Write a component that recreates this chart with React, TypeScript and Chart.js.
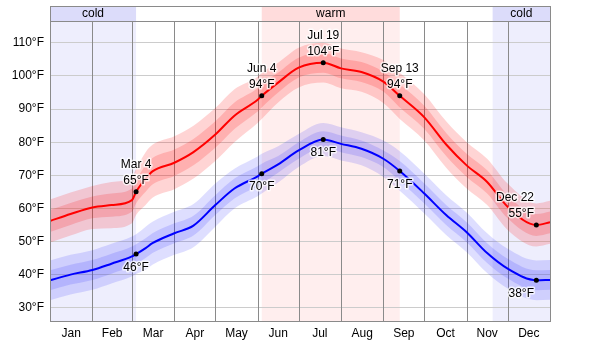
import React, { useEffect, useRef } from 'react';
import { Chart, registerables } from 'chart.js';
Chart.register(...registerables);

// Day of year (leap-year calendar, 0 = Jan 1)
const days = [0, 15, 31, 45, 60, 63, 70, 75, 91, 105, 121, 135, 152, 155, 167, 182, 200, 213, 228, 244, 256, 274, 290, 305, 320, 335, 356, 366];

// Average daily high and low (°F)
const high = [56.2, 58.3, 60.3, 61.0, 62.5, 65, 69, 71.2, 73.8, 77, 82.3, 88, 92.8, 94, 98, 102.5, 104, 102.3, 101.2, 98.3, 94, 87.5, 79.3, 73, 68, 60.5, 55, 55.8];
const low = [38.3, 40, 41.4, 43.3, 45.5, 46.2, 48, 49.5, 52.5, 54.8, 61, 66, 69.7, 70.5, 73.3, 77.5, 80.8, 79.5, 78, 75, 71.3, 64.5, 58, 52.8, 46.5, 41.8, 38.3, 38.4];

// Percentile bands for the high
const hiP90 = [62.7, 64.8, 66.8, 68.0, 69.5, 72.0, 77.0, 79.2, 81.8, 85.0, 90.3, 96.0, 99.8, 101.0, 104.0, 108.5, 110.0, 108.3, 107.2, 104.8, 101.0, 94.5, 86.3, 80.0, 75.0, 67.5, 61.5, 62.3];
const hiP75 = [59.5, 61.6, 63.6, 64.5, 66.0, 68.5, 73.0, 75.2, 77.8, 81.0, 86.3, 92.0, 96.3, 97.5, 101.0, 105.5, 107.0, 105.3, 104.2, 101.3, 97.5, 91.0, 82.8, 76.5, 71.5, 64.0, 58.3, 59.1];
const hiP25 = [52.9, 55.0, 57.0, 57.5, 59.0, 61.5, 65.0, 67.2, 69.8, 73.0, 78.3, 84.0, 89.3, 90.5, 95.0, 99.5, 101.0, 99.3, 98.2, 95.3, 90.5, 84.0, 75.8, 69.5, 64.5, 57.0, 51.7, 52.5];
const hiP10 = [49.7, 51.8, 53.8, 54.0, 55.5, 58.0, 61.0, 63.2, 65.8, 69.0, 74.3, 80.0, 85.8, 87.0, 92.0, 96.5, 98.0, 96.3, 95.2, 91.8, 87.0, 80.5, 72.3, 66.0, 61.0, 53.5, 48.5, 49.3];

// Percentile bands for the low
const loP90 = [44.3, 46.0, 47.4, 49.3, 51.5, 52.2, 54.5, 56.0, 59.0, 61.3, 67.5, 72.0, 75.7, 76.5, 78.8, 82.5, 85.8, 84.5, 83.0, 80.5, 77.3, 70.5, 64.0, 58.8, 52.5, 47.8, 44.3, 44.4];
const loP75 = [41.3, 43.0, 44.4, 46.3, 48.5, 49.2, 51.0, 52.5, 55.5, 57.8, 64.0, 69.0, 72.7, 73.5, 75.8, 80.0, 83.3, 82.0, 80.5, 77.5, 74.3, 67.5, 61.0, 55.8, 49.5, 44.8, 41.3, 41.4];
const loP25 = [35.3, 37.0, 38.4, 40.3, 42.5, 43.2, 45.0, 46.5, 49.5, 51.8, 58.0, 63.0, 66.7, 67.5, 70.8, 75.0, 78.3, 77.0, 75.5, 72.5, 68.3, 61.5, 55.0, 49.8, 43.5, 38.8, 35.3, 35.4];
const loP10 = [32.3, 34.0, 35.4, 37.3, 39.5, 40.2, 41.5, 43.0, 46.0, 48.3, 54.5, 60.0, 63.7, 64.5, 67.8, 72.5, 75.8, 74.5, 73.0, 69.5, 65.3, 58.5, 52.0, 46.8, 40.5, 35.8, 32.3, 32.4];

// Month axis
const monthStarts = [0, 31, 60, 91, 121, 152, 182, 213, 244, 274, 305, 335, 366];
const monthLabels = ['Jan', 'Feb', 'Mar', 'Apr', 'May', 'Jun', 'Jul', 'Aug', 'Sep', 'Oct', 'Nov', 'Dec'];
const yTicks = [30, 40, 50, 60, 70, 80, 90, 100, 110];

// Seasons
const seasonNames = ['cold', 'warm', 'cold'];
const seasonStart = [0, 155, 324];
const seasonEnd = [63, 256, 366];
const seasonKind = ['cold', 'warm', 'cold'];

// Annotations
const annDays = [63, 155, 200, 256, 356];
const annDates = ['Mar 4', 'Jun 4', 'Jul 19', 'Sep 13', 'Dec 22'];
const annHigh = [65, 94, 104, 94, 55];
const annLow = [46.2, 70.5, 80.8, 71.3, 38.3];
const annHighLabel = ['65°F', '94°F', '104°F', '94°F', '55°F'];
const annLowLabel = ['46°F', '70°F', '81°F', '71°F', '38°F'];

const FONT = "'Liberation Sans', Arial, sans-serif";

const decor = {
  id: 'decor',
  beforeDraw(chart: any) {
    const { ctx, chartArea, scales } = chart;
    const { left, right, top, bottom } = chartArea;
    const x = scales.x;
    ctx.save();
    ctx.fillStyle = '#ffffff';
    ctx.fillRect(left, top - 15, right - left, bottom - top + 15);
    for (let i = 0; i < seasonNames.length; i++) {
      const x0 = x.getPixelForValue(seasonStart[i]);
      const x1 = x.getPixelForValue(seasonEnd[i]);
      const cold = seasonKind[i] === 'cold';
      ctx.fillStyle = cold ? '#eeeefd' : '#ffeeee';
      ctx.fillRect(x0, top, x1 - x0, bottom - top);
      ctx.fillStyle = cold ? '#dcdcfa' : '#ffdcdc';
      ctx.fillRect(x0, top - 15, x1 - x0, 15);
    }
    ctx.restore();
  },
  beforeDatasetsDraw(chart: any) {
    const { ctx, chartArea, scales } = chart;
    const { top, bottom } = chartArea;
    const x = scales.x;
    ctx.save();
    ctx.strokeStyle = '#8a8a8a';
    ctx.lineWidth = 1;
    for (let i = 1; i < monthStarts.length - 1; i++) {
      const px = Math.round(x.getPixelForValue(monthStarts[i])) + 0.5;
      ctx.beginPath();
      ctx.moveTo(px, top);
      ctx.lineTo(px, bottom);
      ctx.stroke();
    }
    ctx.restore();
  },
  afterDraw(chart: any) {
    const { ctx, chartArea, scales } = chart;
    const { left, right, top, bottom } = chartArea;
    const x = scales.x;
    const y = scales.y;
    ctx.save();
    // frame
    ctx.strokeStyle = '#8a8a8a';
    ctx.lineWidth = 1;
    ctx.strokeRect(Math.round(left) + 0.5, Math.round(top - 15) + 0.5, Math.round(right - left), Math.round(bottom - top + 15));
    ctx.beginPath();
    ctx.moveTo(left, Math.round(top) + 0.5);
    ctx.lineTo(right, Math.round(top) + 0.5);
    ctx.stroke();

    ctx.font = `12px ${FONT}`;
    ctx.fillStyle = '#000';
    ctx.textAlign = 'center';
    ctx.textBaseline = 'middle';
    for (let i = 0; i < seasonNames.length; i++) {
      const x0 = x.getPixelForValue(seasonStart[i]);
      const x1 = x.getPixelForValue(seasonEnd[i]);
      ctx.fillText(seasonNames[i], (x0 + x1) / 2, top - 7.5);
    }
    for (let i = 0; i < monthLabels.length; i++) {
      const cx = x.getPixelForValue((monthStarts[i] + monthStarts[i + 1]) / 2);
      ctx.fillText(monthLabels[i], cx, bottom + 12.5);
    }

    const label = (txt: string, px: number, py: number) => {
      const w = ctx.measureText(txt).width;
      let tx = Math.min(px, right - 16 - w / 2);
      tx = Math.max(tx, left + 4 + w / 2);
      ctx.lineWidth = 3;
      ctx.lineJoin = 'round';
      ctx.strokeStyle = 'rgba(255,255,255,0.75)';
      ctx.strokeText(txt, tx, py);
      ctx.fillStyle = '#000';
      ctx.fillText(txt, tx, py);
    };

    for (let i = 0; i < annDays.length; i++) {
      const px = x.getPixelForValue(annDays[i]);
      const hy = y.getPixelForValue(annHigh[i]);
      const ly = y.getPixelForValue(annLow[i]);
      label(annDates[i], px, hy - 27.5);
      label(annHighLabel[i], px, hy - 11.5);
      label(annLowLabel[i], px, ly + 13.5);
      ctx.fillStyle = '#000';
      ctx.beginPath();
      ctx.arc(px, hy, 2.5, 0, Math.PI * 2);
      ctx.fill();
      ctx.beginPath();
      ctx.arc(px, ly, 2.5, 0, Math.PI * 2);
      ctx.fill();
    }
    ctx.restore();
  },
};

export default function App() {
  const ref = useRef<HTMLCanvasElement>(null);
  useEffect(() => {
    if (!ref.current) return;
    const pts = (arr: number[]) => days.map((d, i) => ({ x: d, y: arr[i] }));
    const RED = 'rgba(255,0,0,0.17)';
    const BLUE = 'rgba(0,0,255,0.13)';
    const band = (data: number[], color: string) => ({
      data: pts(data),
      borderColor: 'rgba(0,0,0,0)',
      borderWidth: 1,
      pointRadius: 0,
      fill: '+1',
      backgroundColor: color,
      order: 2,
      cubicInterpolationMode: 'monotone' as const,
    });
    const edge = (data: number[]) => ({
      data: pts(data),
      borderColor: 'rgba(0,0,0,0)',
      borderWidth: 1,
      pointRadius: 0,
      fill: false,
      order: 2,
      cubicInterpolationMode: 'monotone' as const,
    });
    const chart = new Chart(ref.current, {
      type: 'line',
      data: {
        datasets: [
          band(hiP90, RED), edge(hiP10),
          band(hiP75, RED), edge(hiP25),
          band(loP90, BLUE), edge(loP10),
          band(loP75, BLUE), edge(loP25),
          {
            data: pts(high), borderColor: '#ff0000', borderWidth: 2, pointRadius: 0, fill: false, order: 0,
            cubicInterpolationMode: 'monotone' as const,
          },
          {
            data: pts(low), borderColor: '#0000ff', borderWidth: 2, pointRadius: 0, fill: false, order: 0,
            cubicInterpolationMode: 'monotone' as const,
          },
        ] as any,
      },
      options: {
        animation: false,
        responsive: false,
        maintainAspectRatio: false,
        events: [],
        layout: { padding: { top: 21, right: 50, bottom: 23, left: 0 } },
        plugins: { legend: { display: false }, tooltip: { enabled: false } },
        scales: {
          x: { type: 'linear', min: 0, max: 366, display: false },
          y: {
            min: 26,
            max: 116.6,
            afterFit: (s: any) => { s.width = 50; },
            afterBuildTicks: (s: any) => { s.ticks = yTicks.map((v) => ({ value: v })); },
            grid: { color: '#cccccc', drawTicks: false },
            border: { display: false },
            ticks: {
              padding: 6,
              color: '#000',
              font: { family: FONT, size: 12 },
              callback: (v: any) => `${v}°F`,
            },
          },
        },
      },
      plugins: [decor],
    });
    return () => chart.destroy();
  }, []);
  return (
    <div style={{ position: 'fixed', left: 0, top: 0, width: 600, height: 344, background: '#fff' }}>
      <canvas ref={ref} width={600} height={344} style={{ display: 'block', width: 600, height: 344 }} />
    </div>
  );
}
